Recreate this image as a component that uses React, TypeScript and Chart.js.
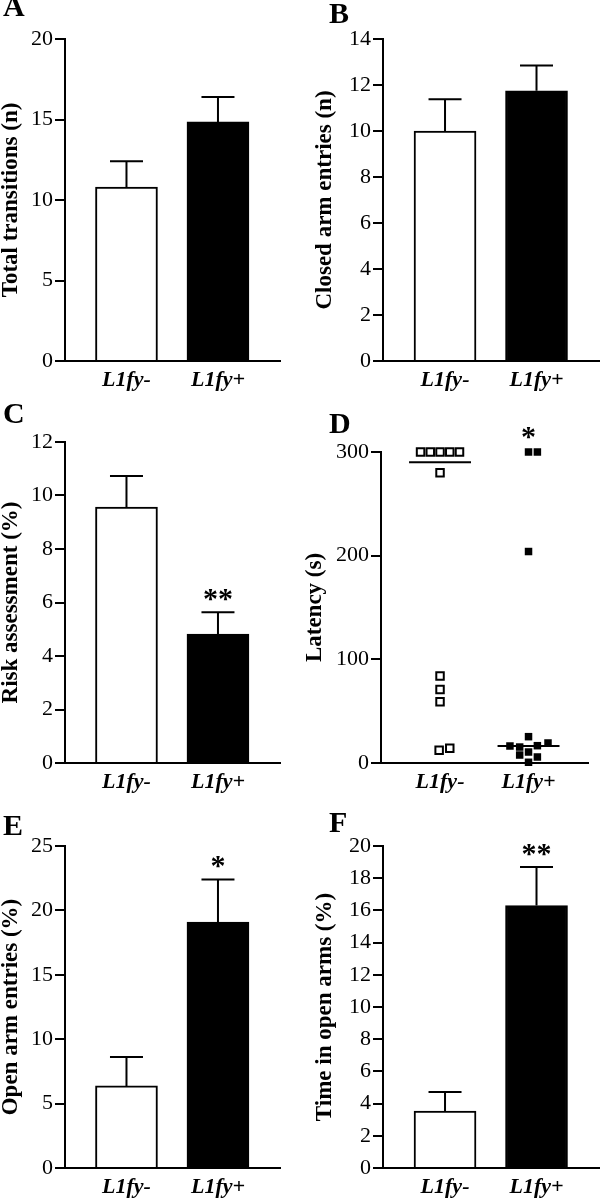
import React, { useEffect, useRef } from 'react';
import { Chart, registerables } from 'chart.js';

Chart.register(...registerables);

const SERIF = "'Liberation Serif', 'Times New Roman', Times, serif";

// ---------- data ----------
const groups = ['L1fy-', 'L1fy+'];
const groupPositions = [1, 2];

const transitionsMean = [10.8, 14.85];
const transitionsSem = [1.6, 1.55];
const transitionsTicks = [0, 5, 10, 15, 20];
const transitionsStars = ['', ''];

const closedMean = [10.0, 11.75];
const closedSem = [1.38, 1.1];
const closedTicks = [0, 2, 4, 6, 8, 10, 12, 14];
const closedStars = ['', ''];

const riskMean = [9.57, 4.82];
const riskSem = [1.16, 0.82];
const riskTicks = [0, 2, 4, 6, 8, 10, 12];
const riskStars = ['', '**'];

const latencyNeg = [300, 300, 300, 300, 300, 280, 84, 71, 59, 12.2, 14.2];
const latencyNegJitter = [-0.22, -0.11, 0, 0.11, 0.22, 0, 0, 0, 0, -0.01, 0.11];
const latencyPos = [300, 300, 204, 25.4, 16.4, 15.4, 16.7, 19.3, 10.6, 7.7, 5.8, 0.7];
const latencyPosJitter = [0, 0.1, 0, 0, -0.21, -0.1, 0.1, 0.22, 0, -0.1, 0.1, 0];
const latencyMedian = [290, 16.4];
const latencyTicks = [0, 100, 200, 300];
const latencyStars = ['', '*'];

const openEntriesMean = [6.37, 19.1];
const openEntriesSem = [2.25, 3.3];
const openEntriesTicks = [0, 5, 10, 15, 20, 25];
const openEntriesStars = ['', '*'];

const openTimeMean = [3.54, 16.3];
const openTimeSem = [1.18, 2.4];
const openTimeTicks = [0, 2, 4, 6, 8, 10, 12, 14, 16, 18, 20];
const openTimeStars = ['', '**'];

// ---------- layout (style only) ----------
type Frame = {
  left: number; top: number; width: number; height: number;
  axisX: number; plotTop: number; plotRight: number; plotBottom: number;
  titlePad: number; letter: string; letterX: number; letterY: number;
  xMin: number; xMax: number;
};

const frameA: Frame = { left: 0, top: 0, width: 300, height: 400, axisX: 65, plotTop: 39, plotRight: 280, plotBottom: 361, titlePad: 0, letter: 'A', letterX: 3, letterY: 16, xMin: 0.328, xMax: 2.678 };
const frameB: Frame = { left: 300, top: 0, width: 300, height: 400, axisX: 83, plotTop: 39, plotRight: 300, plotBottom: 361, titlePad: 14, letter: 'B', letterX: 29, letterY: 23, xMin: 0.322, xMax: 2.694 };
const frameC: Frame = { left: 0, top: 400, width: 300, height: 400, axisX: 65, plotTop: 42, plotRight: 280, plotBottom: 363, titlePad: 0, letter: 'C', letterX: 3, letterY: 23, xMin: 0.328, xMax: 2.678 };
const frameD: Frame = { left: 300, top: 400, width: 300, height: 400, axisX: 81, plotTop: 52, plotRight: 288, plotBottom: 363, titlePad: 4, letter: 'D', letterX: 29, letterY: 33, xMin: 0.333, xMax: 2.672 };
const frameE: Frame = { left: 0, top: 800, width: 300, height: 399, axisX: 65, plotTop: 46, plotRight: 280, plotBottom: 368, titlePad: 0, letter: 'E', letterX: 3, letterY: 35, xMin: 0.328, xMax: 2.678 };
const frameF: Frame = { left: 300, top: 800, width: 300, height: 399, axisX: 83, plotTop: 46, plotRight: 300, plotBottom: 368, titlePad: 14, letter: 'F', letterX: 29, letterY: 32, xMin: 0.322, xMax: 2.694 };

// ---------- plugin: error bars, stars, panel letters ----------
const annotPlugin = {
  id: 'annot',
  afterDatasetsDraw(chart: any, _args: any, opts: any) {
    const { ctx } = chart;
    const x = chart.scales.x;
    const y = chart.scales.y;
    ctx.save();
    ctx.strokeStyle = '#000';
    ctx.fillStyle = '#000';
    ctx.lineWidth = 2;
    if (opts.means && opts.sems) {
      opts.means.forEach((m: number, i: number) => {
        const px = x.getPixelForValue(groupPositions[i]);
        const y0 = y.getPixelForValue(m);
        const y1 = y.getPixelForValue(m + opts.sems[i]);
        ctx.beginPath();
        ctx.moveTo(px, y0);
        ctx.lineTo(px, y1);
        ctx.moveTo(px - 16.5, y1);
        ctx.lineTo(px + 16.5, y1);
        ctx.stroke();
      });
    }
    if (opts.stars) {
      ctx.font = `bold 30px ${SERIF}`;
      ctx.textAlign = 'center';
      ctx.textBaseline = 'alphabetic';
      opts.stars.forEach((s: string, i: number) => {
        if (!s) return;
        const px = x.getPixelForValue(groupPositions[i]);
        const py = y.getPixelForValue(opts.starAnchors[i]);
        ctx.fillText(s, px, py - opts.starGap);
      });
    }
    ctx.restore();
  },
  afterDraw(chart: any, _args: any, opts: any) {
    const { ctx } = chart;
    ctx.save();
    ctx.fillStyle = '#000';
    ctx.font = `bold 30px ${SERIF}`;
    ctx.textAlign = 'left';
    ctx.textBaseline = 'alphabetic';
    ctx.fillText(opts.letter, opts.letterX, opts.letterY);
    ctx.restore();
  },
};

function scalesFor(f: Frame, title: string, ticks: number[]) {
  return {
    x: {
      type: 'linear',
      min: f.xMin,
      max: f.xMax,
      offset: false,
      z: 1,
      grid: { display: false, drawTicks: false, offset: false },
      border: { display: true, color: '#000', width: 2 },
      afterBuildTicks: (s: any) => { s.ticks = groupPositions.map((v) => ({ value: v })); },
      afterFit: (s: any) => { s.height = f.height - f.plotBottom; },
      ticks: {
        color: '#000',
        padding: 6,
        maxRotation: 0,
        autoSkip: false,
        font: { family: SERIF, size: 22, weight: 'bold', style: 'italic' },
        callback: (v: any) => {
          const i = groupPositions.indexOf(Number(v));
          return i >= 0 ? groups[i] : '';
        },
      },
    },
    y: {
      type: 'linear',
      position: 'left',
      min: ticks[0],
      max: ticks[ticks.length - 1],
      z: 1,
      afterBuildTicks: (s: any) => { s.ticks = ticks.map((v) => ({ value: v })); },
      afterFit: (s: any) => { s.width = f.axisX; },
      border: { display: true, color: '#000', width: 2 },
      grid: { drawOnChartArea: false, drawTicks: true, tickLength: 10, color: '#000', lineWidth: 2 },
      ticks: { color: '#000', padding: 2, font: { family: SERIF, size: 22 } },
      title: {
        display: true,
        text: title,
        color: '#000',
        font: { family: SERIF, size: 23, weight: 'bold', lineHeight: 1 },
        padding: { top: f.titlePad, bottom: 0 },
      },
    },
  };
}

function baseOptions(f: Frame, title: string, ticks: number[], annot: any) {
  return {
    animation: false,
    responsive: false,
    maintainAspectRatio: false,
    events: [],
    layout: { padding: { top: f.plotTop, left: 0, right: f.width - f.plotRight, bottom: 0 } },
    plugins: {
      legend: { display: false },
      tooltip: { enabled: false },
      annot: { letter: f.letter, letterX: f.letterX, letterY: f.letterY, ...annot },
    },
    scales: scalesFor(f, title, ticks),
  };
}

function barConfig(f: Frame, title: string, means: number[], sems: number[], ticks: number[], stars: string[]) {
  return {
    type: 'bar',
    data: {
      datasets: [
        {
          data: groupPositions.map((x, i) => ({ x, y: means[i] })),
          backgroundColor: ['#ffffff', '#000000'],
          borderColor: '#000000',
          borderWidth: 2,
          barThickness: 62,
        },
      ],
    },
    options: baseOptions(f, title, ticks, {
      means,
      sems,
      stars,
      starAnchors: means.map((m, i) => m + sems[i]),
      starGap: 4,
    }),
    plugins: [annotPlugin],
  };
}

function latencyConfig(f: Frame) {
  const medianSets = latencyMedian.map((m, i) => ({
    type: 'line',
    data: [
      { x: groupPositions[i] - 0.35, y: m },
      { x: groupPositions[i] + 0.35, y: m },
    ],
    borderColor: '#000',
    borderWidth: 2,
    pointRadius: 0,
    showLine: true,
    fill: false,
  }));
  const maxPos = Math.max(...latencyPos);
  const maxNeg = Math.max(...latencyNeg);
  return {
    type: 'scatter',
    data: {
      datasets: [
        ...medianSets,
        {
          data: latencyNeg.map((v, i) => ({ x: groupPositions[0] + latencyNegJitter[i], y: v })),
          pointStyle: 'rect',
          pointRadius: 5.3,
          backgroundColor: '#ffffff',
          borderColor: '#000000',
          borderWidth: 2,
          clip: false,
        },
        {
          data: latencyPos.map((v, i) => ({ x: groupPositions[1] + latencyPosJitter[i], y: v })),
          pointStyle: 'rect',
          pointRadius: 5.3,
          backgroundColor: '#000000',
          borderColor: '#000000',
          borderWidth: 0,
          clip: false,
        },
      ],
    },
    options: baseOptions(f, 'Latency (s)', latencyTicks, {
      stars: latencyStars,
      starAnchors: [maxNeg, maxPos],
      starGap: 6,
    }),
    plugins: [annotPlugin],
  };
}

function Panel({ frame, build }: { frame: Frame; build: () => any }) {
  const ref = useRef<HTMLCanvasElement>(null);
  useEffect(() => {
    const chart = new Chart(ref.current as HTMLCanvasElement, build());
    return () => chart.destroy();
  }, []);
  return (
    <canvas
      ref={ref}
      width={frame.width}
      height={frame.height}
      style={{ position: 'absolute', left: frame.left, top: frame.top, width: frame.width, height: frame.height }}
    />
  );
}

export default function App() {
  return (
    <div style={{ position: 'absolute', left: 0, top: 0, width: 600, height: 1199, background: '#fff', overflow: 'hidden' }}>
      <Panel frame={frameA} build={() => barConfig(frameA, 'Total transitions (n)', transitionsMean, transitionsSem, transitionsTicks, transitionsStars)} />
      <Panel frame={frameB} build={() => barConfig(frameB, 'Closed arm entries (n)', closedMean, closedSem, closedTicks, closedStars)} />
      <Panel frame={frameC} build={() => barConfig(frameC, 'Risk assessment (%)', riskMean, riskSem, riskTicks, riskStars)} />
      <Panel frame={frameD} build={() => latencyConfig(frameD)} />
      <Panel frame={frameE} build={() => barConfig(frameE, 'Open arm entries (%)', openEntriesMean, openEntriesSem, openEntriesTicks, openEntriesStars)} />
      <Panel frame={frameF} build={() => barConfig(frameF, 'Time in open arms (%)', openTimeMean, openTimeSem, openTimeTicks, openTimeStars)} />
    </div>
  );
}
